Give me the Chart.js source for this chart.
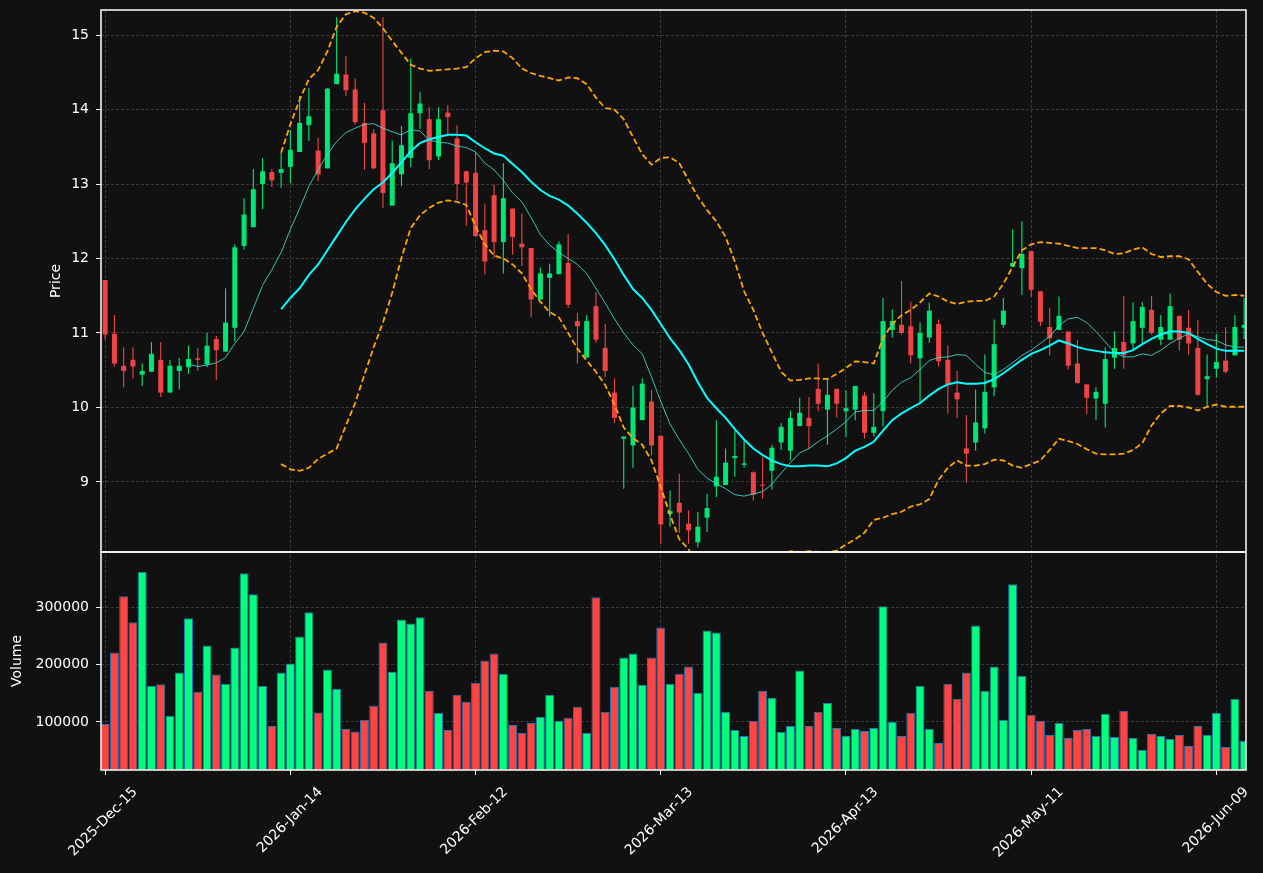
<!DOCTYPE html>
<html lang="en">
<head>
<meta charset="UTF-8">
<script src="https://cdn.jsdelivr.net/npm/chart.js@4.4.1/dist/chart.umd.min.js"></script>
<style>
html, body { margin: 0; padding: 0; background: #111111; }
#wrap { width: 1263px; height: 873px; }
</style>
</head>
<body>
<div id="wrap"><canvas id="chart" width="1263" height="873"></canvas></div>
<script>
// x tick positions (bar index) and their text
const tickIdx = [0, 20, 40, 60, 80, 100, 120];
const tickText = ['2025-Dec-15', '2026-Jan-14', '2026-Feb-12', '2026-Mar-13', '2026-Apr-13', '2026-May-11', '2026-Jun-09'];
const priceTicks = [9, 10, 11, 12, 13, 14, 15];
const volTicks = [100000, 200000, 300000];

// daily OHLC, one value per bar
const open = [11.71,10.99,10.56,10.64,10.44,10.48,10.64,10.20,10.49,10.54,
  10.66,10.58,10.92,10.75,11.07,12.17,12.42,13.00,13.16,13.15,
  13.23,13.43,13.79,13.45,13.21,14.34,14.47,14.27,13.82,13.68,
  13.99,12.71,13.13,13.35,13.95,13.87,13.37,13.96,13.61,13.17,
  13.15,12.38,12.85,12.22,12.67,12.20,12.14,11.45,11.74,11.79,
  11.94,11.16,10.67,11.36,10.80,10.20,9.58,9.49,9.83,10.08,
  9.62,8.57,8.72,8.44,8.19,8.52,8.94,8.96,9.32,9.23,
  9.13,8.96,9.15,9.53,9.42,9.75,9.86,10.25,9.97,10.25,
  9.95,9.97,10.16,9.66,9.95,11.04,11.11,11.09,10.66,10.94,
  11.12,10.64,10.20,9.45,9.53,9.72,10.27,11.11,11.89,11.87,
  12.10,11.56,11.08,11.04,11.02,10.59,10.31,10.12,10.05,10.67,
  10.88,10.86,11.07,11.31,10.91,10.91,11.23,11.07,10.80,10.38,
  10.52,10.63,10.70,11.07];
const high = [11.71,11.24,10.81,10.81,10.59,10.88,10.88,10.64,10.66,10.83,
  10.80,11.00,10.96,11.60,12.19,12.81,13.20,13.35,13.20,13.42,
  13.73,14.18,14.29,13.62,14.29,15.24,14.72,14.42,14.09,13.74,
  15.24,13.58,13.78,14.68,14.24,14.03,14.03,14.06,13.79,13.18,
  13.42,12.74,12.99,13.28,12.67,12.60,12.14,11.88,11.93,12.23,
  12.33,11.27,11.24,11.55,11.12,10.39,9.61,10.29,10.39,10.24,
  9.62,8.89,9.11,8.62,8.60,8.84,9.83,9.45,9.69,9.58,
  9.14,9.33,9.50,9.79,9.96,10.13,10.14,10.59,10.40,10.25,
  10.23,10.29,10.21,10.19,11.47,11.32,11.70,11.42,11.14,11.41,
  11.18,10.83,10.49,9.90,10.24,10.71,11.18,11.47,12.39,12.50,
  12.10,11.56,11.34,11.49,11.02,10.91,10.31,10.27,10.81,11.02,
  11.50,11.41,11.42,11.50,11.24,11.53,11.23,11.31,11.17,10.71,
  10.99,11.08,11.24,11.47];
const low = [10.91,10.55,10.27,10.39,10.29,10.48,10.14,10.20,10.24,10.45,
  10.49,10.54,10.37,10.75,10.89,12.12,12.42,12.66,12.96,12.95,
  13.01,13.43,13.58,13.04,13.21,14.34,14.18,13.80,13.19,13.20,
  12.68,12.71,12.97,13.23,13.74,13.20,13.32,13.67,12.79,12.44,
  12.30,11.79,12.01,11.80,12.05,11.90,11.21,11.45,11.22,11.79,
  11.34,10.59,10.67,10.87,10.41,9.79,8.91,9.19,9.83,9.36,
  8.17,8.40,8.32,8.17,8.12,8.33,8.80,8.96,9.07,9.19,
  8.75,8.77,8.90,9.43,9.29,9.75,9.44,9.95,9.50,9.87,
  9.61,9.83,9.58,9.61,9.74,10.94,10.98,10.59,10.04,10.87,
  10.55,9.92,9.86,8.99,9.42,9.65,10.15,11.07,11.89,11.51,
  11.49,11.09,10.70,11.04,10.51,10.32,9.91,9.83,9.73,10.52,
  10.52,10.78,10.84,10.98,10.84,10.91,10.76,10.71,10.16,10.01,
  10.40,10.46,10.70,10.92];
const close = [10.98,10.59,10.49,10.55,10.49,10.72,10.20,10.56,10.56,10.65,
  10.64,10.83,10.77,11.14,12.15,12.59,12.93,13.17,13.05,13.20,
  13.46,13.82,13.91,13.13,14.28,14.48,14.26,13.83,13.55,13.21,
  12.88,13.28,13.52,13.95,14.08,13.32,13.87,13.90,13.00,13.02,
  12.30,11.96,12.22,12.81,12.29,12.15,11.45,11.80,11.80,12.19,
  11.38,11.09,11.16,10.91,10.49,9.86,9.61,10.00,10.32,9.49,
  8.43,8.61,8.59,8.35,8.40,8.65,9.07,9.26,9.35,9.25,
  8.83,8.95,9.46,9.74,9.86,9.93,9.75,10.05,10.17,10.05,
  9.99,10.29,9.66,9.74,11.16,11.16,11.00,10.70,11.00,11.30,
  10.62,10.31,10.11,9.38,9.80,10.21,10.85,11.30,11.94,12.06,
  11.58,11.15,10.93,11.23,10.56,10.33,10.13,10.21,10.65,10.80,
  10.70,11.16,11.35,11.00,11.08,11.36,10.91,10.86,10.17,10.42,
  10.61,10.48,11.08,11.11];
const volume = [96500,221000,319300,273700,361400,163200,165500,110500,186000,280700,
  152600,233300,182500,166700,229800,359600,322800,163200,93000,186000,
  201800,249100,291200,116400,191200,157900,87700,83000,103500,128100,
  238600,187700,278900,271900,282500,154400,115800,86000,147400,135100,
  168400,207000,219300,184200,94700,80700,98200,108800,147400,101800,
  107000,126300,80700,317500,117500,161400,212300,219300,164900,212300,
  264900,166700,184200,196500,150900,259600,256100,117500,86000,75400,
  101800,154400,142100,82500,93000,189500,93000,117500,133300,89500,
  75400,87700,84200,89500,301800,100000,75400,115800,163200,87700,
  63200,166700,140400,186000,268400,154400,196500,103500,340400,180700,
  112300,101800,77200,98200,71900,86000,87700,75400,114000,73700,
  119300,71900,50900,78900,75400,70200,77200,57900,93000,77200,
  115800,56100,140400,66700];

// overlays; mav10 starts at bar 9, the others at bar 19
const mav10Start = 9;
const mav10 = [10.58,10.55,10.57,10.60,10.67,10.86,11.02,11.33,11.64,11.85,
  12.08,12.39,12.67,12.97,13.19,13.40,13.57,13.69,13.75,13.80,
  13.81,13.75,13.70,13.66,13.73,13.71,13.59,13.56,13.55,13.51,
  13.49,13.43,13.28,13.19,13.05,12.88,12.76,12.55,12.32,12.18,
  12.08,12.00,11.92,11.80,11.60,11.40,11.19,11.00,10.84,10.72,
  10.41,10.08,9.78,9.57,9.38,9.17,9.05,8.98,8.91,8.83,
  8.81,8.84,8.87,8.97,9.12,9.26,9.39,9.45,9.54,9.62,
  9.71,9.81,9.94,9.96,9.96,10.08,10.23,10.34,10.40,10.51,
  10.63,10.67,10.68,10.71,10.70,10.58,10.47,10.44,10.51,10.60,
  10.70,10.77,10.86,10.95,11.10,11.19,11.21,11.14,11.02,10.88,
  10.74,10.68,10.68,10.72,10.70,10.77,10.86,10.93,10.99,10.95,
  10.91,10.90,10.84,10.81,10.81];
const bandStart = 19;
const mav20 = [11.32,11.47,11.60,11.78,11.92,12.11,12.30,12.49,12.66,12.80,
  12.93,13.02,13.15,13.29,13.44,13.55,13.60,13.63,13.66,13.66,
  13.65,13.56,13.48,13.41,13.38,13.27,13.16,13.03,12.92,12.84,
  12.79,12.71,12.60,12.48,12.34,12.18,11.99,11.78,11.59,11.47,
  11.31,11.12,10.93,10.77,10.58,10.34,10.13,9.99,9.86,9.71,
  9.57,9.45,9.36,9.29,9.24,9.21,9.21,9.22,9.22,9.21,
  9.25,9.32,9.42,9.47,9.54,9.69,9.83,9.92,9.99,10.06,
  10.16,10.25,10.31,10.34,10.32,10.32,10.33,10.38,10.46,10.55,
  10.64,10.72,10.77,10.83,10.90,10.86,10.81,10.78,10.76,10.74,
  10.73,10.73,10.77,10.85,10.92,10.98,11.02,11.02,11.00,10.92,
  10.85,10.79,10.76,10.76,10.76];
const bbUpper = [13.42,13.80,14.13,14.41,14.53,14.78,15.11,15.28,15.32,15.30,
  15.23,15.09,14.92,14.76,14.60,14.55,14.52,14.53,14.54,14.55,
  14.57,14.69,14.77,14.79,14.78,14.69,14.55,14.49,14.45,14.42,
  14.39,14.43,14.42,14.34,14.16,14.02,14.00,13.87,13.63,13.40,
  13.26,13.35,13.36,13.28,13.05,12.83,12.65,12.50,12.29,11.96,
  11.56,11.31,11.00,10.74,10.48,10.36,10.37,10.39,10.39,10.38,
  10.45,10.53,10.62,10.61,10.59,10.93,11.12,11.24,11.31,11.41,
  11.53,11.49,11.42,11.39,11.42,11.43,11.43,11.49,11.66,11.89,
  12.11,12.19,12.22,12.21,12.20,12.17,12.14,12.14,12.14,12.11,
  12.06,12.07,12.12,12.15,12.06,12.02,12.03,12.03,11.99,11.82,
  11.66,11.55,11.50,11.51,11.50];
const bbLower = [9.24,9.17,9.15,9.19,9.31,9.38,9.45,9.76,10.06,10.44,
  10.81,11.14,11.54,12.01,12.41,12.58,12.68,12.75,12.78,12.76,
  12.72,12.43,12.19,12.04,12.00,11.92,11.80,11.59,11.42,11.28,
  11.21,11.00,10.79,10.63,10.48,10.30,10.04,9.73,9.59,9.50,
  9.29,8.93,8.56,8.23,8.10,7.85,7.62,7.48,7.43,7.46,
  7.58,7.60,7.72,7.85,7.99,8.07,8.06,8.07,8.06,8.05,
  8.08,8.16,8.23,8.32,8.49,8.52,8.57,8.60,8.67,8.70,
  8.77,9.03,9.19,9.29,9.22,9.22,9.24,9.30,9.29,9.22,
  9.19,9.24,9.29,9.43,9.58,9.55,9.51,9.44,9.38,9.37,
  9.37,9.38,9.43,9.52,9.76,9.92,10.02,10.02,10.00,9.96,
  10.01,10.04,10.01,10.01,10.01];

const upCandle = '#00e676', downCandle = '#ef4444';
const upVol = '#00ff7f', downVol = '#ff4444';
const isUp = close.map((c, i) => c >= open[i]);

const toXY = (arr, start) => arr.map((v, k) => ({x: k + start, y: v}));

// keep each dataset inside its own panel and draw the white frames
const panels = {
  id: 'panels',
  beforeDatasetDraw(chart, args) {
    const sc = chart.scales[args.meta.yAxisID];
    const a = chart.chartArea;
    chart.ctx.save();
    chart.ctx.beginPath();
    chart.ctx.rect(a.left, sc.top, a.right - a.left, sc.bottom - sc.top);
    chart.ctx.clip();
  },
  afterDatasetDraw(chart) {
    chart.ctx.restore();
  },
  afterDatasetsDraw(chart) {
    const ctx = chart.ctx, a = chart.chartArea;
    ctx.save();
    ctx.strokeStyle = '#ffffff';
    ctx.lineWidth = 1.5;
    for (const id of ['y', 'yVol']) {
      const sc = chart.scales[id];
      ctx.strokeRect(a.left, sc.top, a.right - a.left, sc.bottom - sc.top);
    }
    ctx.restore();
  }
};

// fixed axis sizes so the plot area lands where the reference has it
const fixWidth = s => { s.width = 101; s.paddingTop = 0; s.paddingBottom = 0; };

Chart.defaults.font.family = 'DejaVu Sans';
Chart.defaults.font.size = 14;
Chart.defaults.color = '#ffffff';

const gridOpts = {color: '#3a3a3a', lineWidth: 1, tickColor: '#ffffff', tickLength: 5, tickWidth: 1, tickBorderDash: []};

new Chart(document.getElementById('chart'), {
  type: 'bar',
  data: {
    datasets: [
      {type: 'line', label: 'mav10', yAxisID: 'y', data: toXY(mav10, mav10Start), borderColor: 'rgba(64,224,208,0.85)', borderWidth: 1, pointRadius: 0, order: 0},
      {type: 'line', label: 'mav20', yAxisID: 'y', data: toXY(mav20, bandStart), borderColor: '#00ffff', borderWidth: 2, pointRadius: 0, order: 0},
      {type: 'line', label: 'upper', yAxisID: 'y', data: toXY(bbUpper, bandStart), borderColor: '#ffa500', borderWidth: 1.8, borderDash: [6, 3], pointRadius: 0, order: 0},
      {type: 'line', label: 'lower', yAxisID: 'y', data: toXY(bbLower, bandStart), borderColor: '#ffa500', borderWidth: 1.8, borderDash: [6, 3], pointRadius: 0, order: 0},
      {label: 'body', yAxisID: 'y', data: open.map((o, i) => ({x: i, y: [o, close[i]]})), backgroundColor: isUp.map(u => u ? upCandle : downCandle),
        grouped: false, categoryPercentage: 1, barPercentage: 0.55, maxBarThickness: 5, minBarLength: 1, order: 1},
      {label: 'wick', yAxisID: 'y', data: low.map((l, i) => ({x: i, y: [l, high[i]]})), backgroundColor: isUp.map(u => u ? upCandle : downCandle),
        grouped: false, categoryPercentage: 1, barPercentage: 0.12, maxBarThickness: 1.2, order: 2},
      {label: 'volume', yAxisID: 'yVol', data: volume.map((v, i) => ({x: i, y: v})), backgroundColor: isUp.map(u => u ? upVol : downVol),
        borderColor: '#1f77b4', borderWidth: 1, grouped: false, categoryPercentage: 1, barPercentage: 0.97, order: 3}
    ]
  },
  options: {
    responsive: false,
    devicePixelRatio: 1,
    animation: false,
    events: [],
    layout: {padding: {top: 10, right: 17, left: 0, bottom: 0}},
    plugins: {legend: {display: false}, tooltip: {enabled: false}},
    scales: {
      x: {
        type: 'linear', min: -0.45, max: 123.2, offset: false,
        afterBuildTicks: s => { s.ticks = tickIdx.map(v => ({value: v})); },
        afterFit: s => { s.height = 103; s.paddingLeft = 0; s.paddingRight = 0; },
        grid: Object.assign({offset: false}, gridOpts),
        border: {display: false, dash: [3, 2]},
        ticks: {autoSkip: false, maxRotation: 45, minRotation: 45, padding: 9, labelOffset: 30,
          callback: v => tickText[tickIdx.indexOf(v)] || ''}
      },
      yVol: {
        type: 'linear', position: 'left', stack: 'panels', stackWeight: 218,
        min: 16000, max: 396500,
        afterBuildTicks: s => { s.ticks = volTicks.map(v => ({value: v})); },
        afterFit: fixWidth,
        grid: gridOpts,
        border: {display: false, dash: [3, 2]},
        ticks: {padding: 7, callback: v => String(v)},
        title: {display: true, text: 'Volume', padding: {top: 9, bottom: 0}}
      },
      y: {
        type: 'linear', position: 'left', stack: 'panels', stackWeight: 542,
        min: 8.06, max: 15.336,
        afterBuildTicks: s => { s.ticks = priceTicks.map(v => ({value: v})); },
        afterFit: fixWidth,
        grid: gridOpts,
        border: {display: false, dash: [3, 2]},
        ticks: {padding: 7},
        title: {display: true, text: 'Price', padding: {top: 48, bottom: 0}}
      }
    }
  },
  plugins: [panels]
});
</script>
</body>
</html>
